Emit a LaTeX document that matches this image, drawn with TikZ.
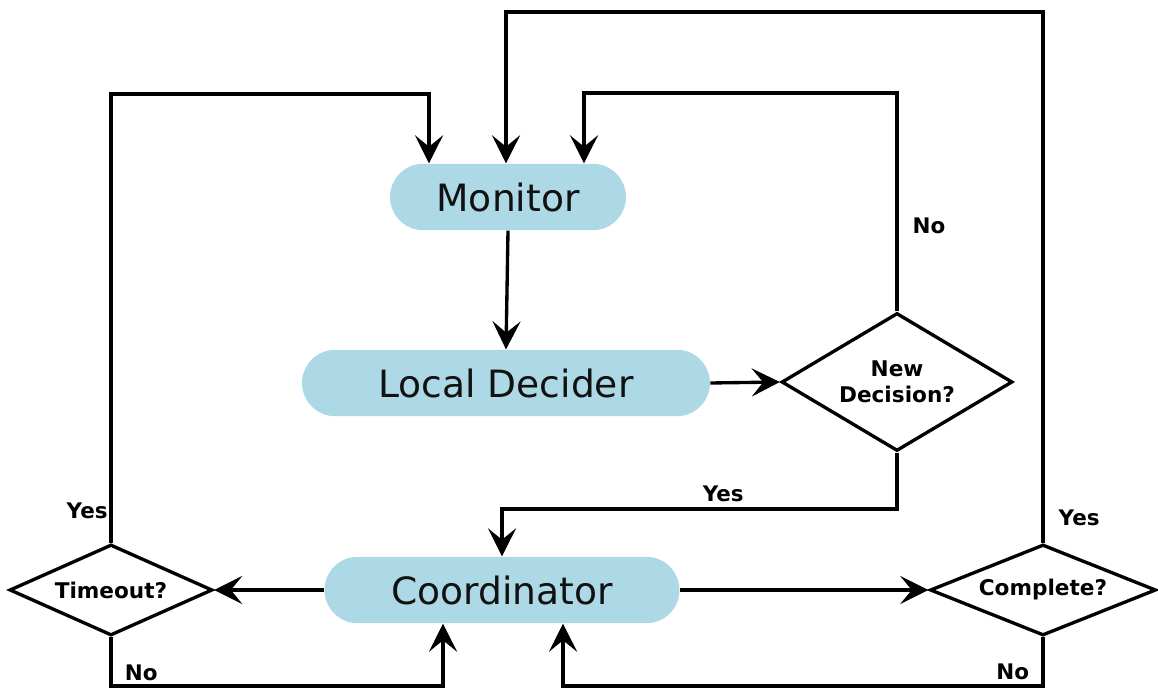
\documentclass[tikz,border=0pt]{standalone}
\usepackage{fontspec}
\setmainfont{DejaVu Sans}
\usepackage{xcolor}
\usetikzlibrary{shapes.geometric, arrows.meta, positioning, calc}
\definecolor{pillblue}{RGB}{173, 216, 230}
\definecolor{inkblack}{RGB}{17, 17, 17}

\tikzset{
  pill/.style={rectangle, rounded corners=0.665cm, fill=pillblue, text=inkblack,
    font=\fontsize{21.4}{24}\selectfont, minimum height=1.33cm, inner sep=0pt},
  decision/.style={diamond, draw, line width=1.9pt, inner sep=0pt, aspect=2.2,
    font=\fontsize{12.3}{14.5}\selectfont\bfseries, align=center, minimum height=1.82cm},
  flow/.style={line width=1.9pt, -{Stealth[length=16pt, width=16pt, inset=6.5pt]}},
  answer/.style={font=\fontsize{12.2}{14}\selectfont\bfseries, inner sep=1pt}
}

\begin{document}
\begin{tikzpicture}[x=0.02cm, y=-0.02cm]
    \useasboundingbox (0,0) rectangle (1158,688);

    % Processing stages
    \node[pill, minimum width=4.72cm] (monitor) at (508,197) {Monitor};
    \node[pill, minimum width=8.16cm] (decider) at (506,383) {Local Decider};
    \node[pill, minimum width=7.10cm] (coord) at (502,590) {Coordinator};

    % Decisions
    \node[decision, aspect=1.67, minimum width=4.62cm, minimum height=2.76cm] (newdec) at (897,382) {New\\Decision?};
    \node[decision, minimum width=4.06cm] (timeout) at (111,590) {Timeout?};
    \node[decision, minimum width=4.52cm] (complete) at (1043,590) {Complete?};

    % Main chain
    \draw[flow] (monitor.south) -- (decider.north);
    \draw[flow] (decider.east) -- (newdec.west);
    \draw[flow] (coord.west) -- (timeout.east);
    \draw[flow] (coord.east) -- (complete.west);

    % New decision?
    \draw[flow] (newdec.south) |- (502,509) node[answer, pos=0.72, above=2pt] (newyes) {Yes} -- (coord.north);
    \draw[flow] (newdec.north) |- (584,93) node[answer, pos=0.195, right=7pt] (newno) {No} -- (584,0 |- monitor.north);

    % Timeout?
    \draw[flow] (timeout.north) |- (429,94) node[answer, pos=0.036, left] (timeyes) {Yes} -- (429,0 |- monitor.north);
    \draw[flow] (timeout.south) |- (443,686) node[answer, pos=0.37, right=6pt] (timeno) {No} -- (443,0 |- coord.south);

    % Complete?
    \draw[flow] (complete.north) |- (506,12) node[answer, pos=0.024, right=7pt] (compyes) {Yes} -- (506,0 |- monitor.north);
    \draw[flow] (complete.south) |- (563,686) node[answer, pos=0.36, left=6pt] (compno) {No} -- (563,0 |- coord.south);
\end{tikzpicture}
\end{document}
